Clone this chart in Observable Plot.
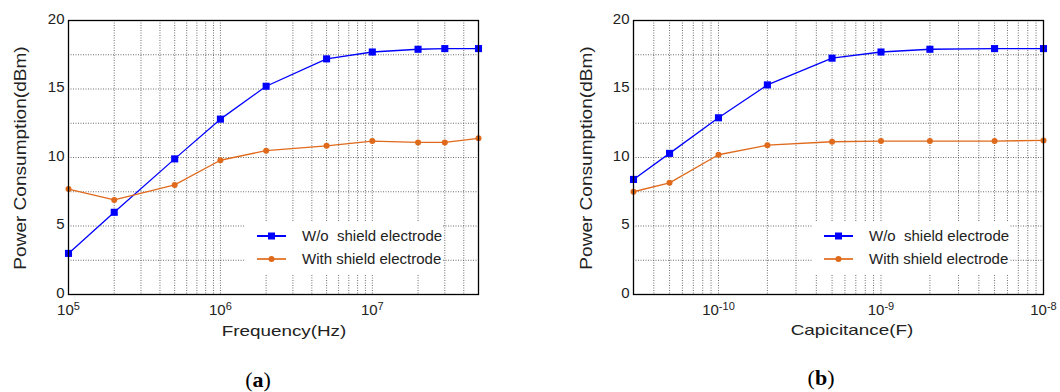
<!DOCTYPE html>
<html>
<head>
<meta charset="utf-8">
<script src="https://cdn.jsdelivr.net/npm/d3@7"></script>
<script src="https://cdn.jsdelivr.net/npm/@observablehq/plot@0.6"></script>
<style>
  html, body { margin: 0; padding: 0; background: #fff; }
  #wrap { position: relative; width: 1060px; height: 392px; overflow: hidden; font-family: 'Liberation Sans', Arial, sans-serif; color: #222; }
  .panel { position: absolute; top: 0; }
  .ylab, .xlab, .cap { position: absolute; white-space: pre; line-height: 1; }
  .ylab { font-size: 17px; transform: translate(-50%, -50%) rotate(-90deg) scaleX(1.12); }
  .xlab { font-size: 14.5px; transform: translate(-50%, -50%) scaleX(1.3); }
  .cap { font-family: 'Liberation Serif', 'Times New Roman', serif; font-size: 22px; transform: translate(-50%, -50%); color: #000; }
  .legend { position: absolute; background: #fff; width: 198px; height: 54px; }
  .legend .row { position: absolute; left: 0; height: 20px; width: 198px; }
  .legend svg { position: absolute; left: 12px; top: 5px; }
  .legend span { position: absolute; left: 57px; top: 1px; font-size: 15px; white-space: pre; line-height: 18px; color: #222; }
</style>
</head>
<body>
<div id="wrap"></div>
<script>
// ---- data ----
const seriesNames = ["W/o  shield electrode", "With shield electrode"];
const seriesColors = ["#0000FF", "#E06A1B"];

const freqA = [1e5, 2e5, 5e5, 1e6, 2e6, 5e6, 1e7, 2e7, 3e7, 5e7];
const woShieldA = [3.0, 6.0, 9.9, 12.8, 15.2, 17.2, 17.7, 17.9, 17.95, 17.95];
const withShieldA = [7.7, 6.9, 8.0, 9.8, 10.5, 10.85, 11.2, 11.1, 11.1, 11.4];

const capB = [3e-11, 5e-11, 1e-10, 2e-10, 5e-10, 1e-9, 2e-9, 5e-9, 1e-8];
const woShieldB = [8.4, 10.3, 12.9, 15.3, 17.25, 17.7, 17.9, 17.95, 17.95];
const withShieldB = [7.5, 8.15, 10.2, 10.9, 11.15, 11.2, 11.2, 11.2, 11.25];

const yTicks = [0, 5, 10, 15, 20];
const yGrid = [2.5, 5, 7.5, 10, 12.5, 15, 17.5];
const xTicksA = [1e5, 1e6, 1e7];
const xTicksB = [1e-10, 1e-9, 1e-8];
const xDomainA = [1e5, 5e7];
const xDomainB = [3e-11, 1e-8];
const xLabels = ["Frequency(Hz)", "Capicitance(F)"];
const yLabel = "Power Consumption(dBm)";
const captions = ["a", "b"];

// ---- helpers ----
const expFmt = d => "10^" + Math.round(Math.log10(d));

function table(xs, a, b) {
  return [
    ...xs.map((x, i) => ({x, y: a[i], series: seriesNames[0]})),
    ...xs.map((x, i) => ({x, y: b[i], series: seriesNames[1]}))
  ];
}

function makePanel({xs, a, b, domain, ticks, marginLeft, marginRight}) {
  const data = table(xs, a, b);
  const minor = d3.scaleLog().domain(domain).ticks().filter(t => t > domain[0] * 1.0001 && t < domain[1] * 0.9999);
  const gridStyle = {stroke: "#555", strokeWidth: 1, strokeDasharray: "1,1.5", strokeOpacity: 0.85};
  const svg = Plot.plot({
    width: 530,
    height: 345,
    marginLeft, marginRight,
    marginTop: 20,
    marginBottom: 51,
    style: {fontFamily: "'Liberation Sans', Arial, sans-serif", fontSize: "15px", color: "#222", background: "transparent", overflow: "visible"},
    x: {type: "log", domain},
    y: {domain: [0, 20]},
    color: {domain: seriesNames, range: seriesColors},
    marks: [
      Plot.ruleX(minor, {...gridStyle}),
      Plot.ruleY(yGrid, {...gridStyle}),
      Plot.axisX({ticks, tickSize: 0, tickPadding: 9.5, tickFormat: expFmt, label: null, fontSize: 15}),
      Plot.axisY({ticks: yTicks, tickSize: 0, tickPadding: 4, label: null, fontSize: 15, dy: -1.5}),
      Plot.line(data, {x: "x", y: "y", z: "series", stroke: "series", strokeWidth: 1.3}),
      Plot.dot(data.filter(d => d.series === seriesNames[0]), {x: "x", y: "y", symbol: "square", r: 4, fill: "series", stroke: null}),
      Plot.dot(data.filter(d => d.series === seriesNames[1]), {x: "x", y: "y", symbol: "circle", r: 3, fill: "series", stroke: null}),
      Plot.frame({stroke: "#000", strokeWidth: 1.3})
    ]
  });
  // turn "10^n" labels into a base with a raised exponent
  d3.select(svg).selectAll("text").each(function () {
    const t = this.textContent;
    if (!t.includes("^")) return;
    const [base, exp] = t.split("^");
    const sel = d3.select(this);
    sel.text(null);
    sel.append("tspan").text(base);
    sel.append("tspan").attr("font-size", 11).attr("dy", -5).text(exp);
  });
  return svg;
}

const wrap = document.getElementById("wrap");

function addDiv(cls, text, left, top, html) {
  const el = document.createElement("div");
  el.className = cls;
  if (html) el.innerHTML = html; else el.textContent = text;
  el.style.left = left + "px";
  el.style.top = top + "px";
  wrap.appendChild(el);
  return el;
}

function addLegend(left, top) {
  const lg = document.createElement("div");
  lg.className = "legend";
  lg.style.left = left + "px";
  lg.style.top = top + "px";
  const rowsTop = [5, 28];
  seriesNames.forEach((name, i) => {
    const row = document.createElement("div");
    row.className = "row";
    row.style.top = rowsTop[i] + "px";
    const marker = i === 0
      ? `<rect x="11" y="1.5" width="7" height="7" fill="${seriesColors[i]}"/>`
      : `<circle cx="14.5" cy="5" r="3" fill="${seriesColors[i]}"/>`;
    row.innerHTML = `<svg width="29" height="10"><line x1="0" x2="29" y1="5" y2="5" stroke="${seriesColors[i]}" stroke-width="2" stroke-opacity="${i === 0 ? 1 : 0.85}"/>${marker}</svg>`;
    const sp = document.createElement("span");
    sp.textContent = name;
    row.appendChild(sp);
    lg.appendChild(row);
  });
  wrap.appendChild(lg);
}

// panel (a)
const pa = document.createElement("div");
pa.className = "panel"; pa.style.left = "0px";
pa.appendChild(makePanel({xs: freqA, a: woShieldA, b: withShieldA, domain: xDomainA, ticks: xTicksA, marginLeft: 68, marginRight: 52}));
wrap.appendChild(pa);

// panel (b)
const pb = document.createElement("div");
pb.className = "panel"; pb.style.left = "530px";
pb.appendChild(makePanel({xs: capB, a: woShieldB, b: withShieldB, domain: xDomainB, ticks: xTicksB, marginLeft: 103, marginRight: 17}));
wrap.appendChild(pb);

// labels
addDiv("ylab", yLabel, 20, 158);
addDiv("ylab", yLabel, 586, 158);
addDiv("xlab", xLabels[0], 284, 331);
addDiv("xlab", xLabels[1], 852, 330);
addDiv("cap", "", 258, 380, `(<b>${captions[0]}</b>)`);
addDiv("cap", "", 821, 378, `(<b>${captions[1]}</b>)`);

// legends
addLegend(245, 221);
addLegend(812, 221);
</script>
</body>
</html>
